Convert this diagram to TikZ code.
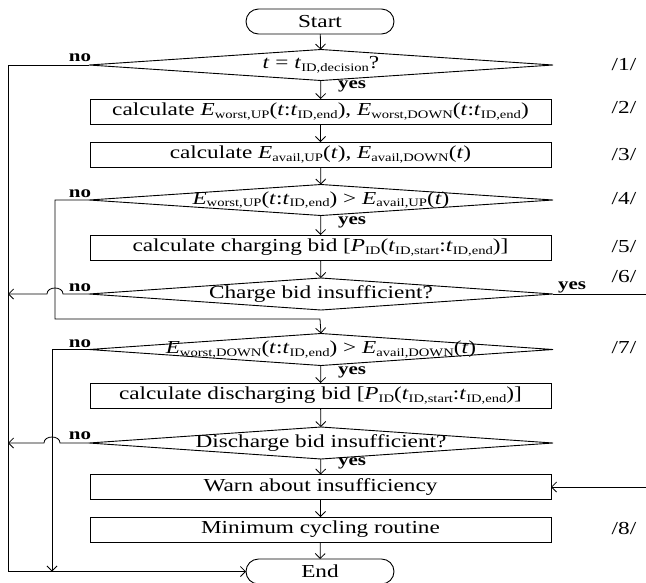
\documentclass[tikz,border=0pt]{standalone}
\usepackage{fontspec}
\setmainfont{Liberation Serif}[FakeStretch=1.27]
\usetikzlibrary{arrows.meta,shapes.geometric,shapes.misc}
\newcommand\Sb[1]{\raisebox{-2.5pt}{\fontsize{11.5}{12}\selectfont #1}}
\newcommand\vE{\textit{E}}
\newcommand\vt{\textit{t}}
\newcommand\vP{\textit{P}}
\begin{document}
\begin{tikzpicture}[x=1pt,y=-1pt,
  every node/.style={font=\fontsize{18.3}{20}\selectfont, inner sep=0pt, outer sep=0pt},
  box/.style={draw, line width=0.9pt, minimum width=461pt, minimum height=25pt},
  term/.style={draw, rounded rectangle, line width=0.9pt, minimum width=148pt, minimum height=25pt},
  dia/.style={draw, diamond, aspect=15, line width=0.9pt, minimum width=464pt, minimum height=31pt},
  yn/.style={font=\bfseries\fontsize{16.5}{17}\selectfont},
  arr/.style={-{Straight Barb[length=5pt,width=10pt]}, line width=0.8pt},
  ln/.style={line width=0.8pt}]
\useasboundingbox (0,0) rectangle (646,582);

% nodes
\node[term] (start) at (320,21.5) {Start};
\node[dia] (d1) at (321,65) {};
\node (d1t) at (d1.center) {\vt{} = \vt\Sb{ID,decision}?};
\node[box] (b2) at (320.5,111.5) {calculate \vE\Sb{worst,UP}(\vt:\vt\Sb{ID,end}), \vE\Sb{worst,DOWN}(\vt:\vt\Sb{ID,end})};
\node[box] (b3) at (320.5,154.5) {calculate \vE\Sb{avail,UP}(\vt), \vE\Sb{avail,DOWN}(\vt)};
\node[dia] (d4) at (321,200) {};
\node (d4t) at (d4.center) {\vE\Sb{worst,UP}(\vt:\vt\Sb{ID,end}) > \vE\Sb{avail,UP}(\vt)};
\node[box] (b5) at (320.5,247.5) {calculate charging bid [\vP\Sb{ID}(\vt\Sb{ID,start}:\vt\Sb{ID,end})]};
\node[dia, minimum height=32pt] (d6) at (321,294) {};
\node (d6t) at (d6.center) {Charge bid insufficient?};
\node[dia, minimum height=32pt] (d7) at (321,349.5) {};
\node (d7t) at (d7.center) {\vE\Sb{worst,DOWN}(\vt:\vt\Sb{ID,end}) > \vE\Sb{avail,DOWN}(\vt)};
\node[box] (b8) at (320.5,395.5) {calculate discharging bid [\vP\Sb{ID}(\vt\Sb{ID,start}:\vt\Sb{ID,end})]};
\node[dia, minimum height=32pt] (d9) at (321,443) {};
\node (d9t) at (d9.center) {Discharge bid insufficient?};
\node[box] (warn) at (320.5,487) {Warn about insufficiency};
\node[box] (mincyc) at (320.5,529.5) {Minimum cycling routine};
\node[term] (endn) at (320,571.5) {End};

% step labels
\node (s1) at (624,65) {/1/};
\node (s2) at (624,108) {/2/};
\node (s3) at (624,155) {/3/};
\node (s4) at (624,199) {/4/};
\node (s5) at (624,247) {/5/};
\node (s6) at (624,277) {/6/};
\node (s7) at (624,348) {/7/};
\node (s8) at (624,528) {/8/};

% yes / no labels
\node[yn] (y1) at (352,86) {yes};
\node[yn] (y4) at (352,222) {yes};
\node[yn] (y6) at (572,287) {yes};
\node[yn] (y7) at (352,372) {yes};
\node[yn] (y9) at (352,463) {yes};
\node[yn] (n1) at (80,58) {no};
\node[yn] (n4) at (80,194) {no};
\node[yn] (n6) at (80,288) {no};
\node[yn] (n7) at (80,344) {no};
\node[yn] (n9) at (80,436) {no};

% helper coordinates
\coordinate (L1) at (8,65);
\coordinate (J4) at (55,200);
\coordinate (J7) at (320,319);
\coordinate (L6) at (8,294);
\coordinate (R6) at (647.5,294);
\coordinate (K7) at (52,349.5);
\coordinate (K7b) at (52,571.5);
\coordinate (L9) at (8,443);

% straight flow
\draw[arr] (start) -- (d1);
\draw[arr] (d1) -- (b2);
\draw[arr] (b2) -- (b3);
\draw[arr] (b3) -- (d4);
\draw[arr] (d4) -- (b5);
\draw[arr] (b5) -- (d6);
\draw[arr] (d7) -- (b8);
\draw[arr] (b8) -- (d9);
\draw[arr] (d9) -- (warn);
\draw[arr] (warn) -- (mincyc);
\draw[arr] (mincyc) -- (endn);

% branches
\draw[arr] (d1.west) -- (L1) |- (endn.west);
\draw[arr] (d4.west) -- (J4) |- (J7) -- (d7.north);
\draw[arr] (d6.west) -- (63,294) .. controls (63,286) and (47,286) .. (47,294) -- (L6);
\draw[arr] (d6.east) -- (R6) |- (warn.east);
\draw[arr] (d7.west) -- (K7) -- (K7b);
\draw[arr] (d9.west) -- (60,443) .. controls (60,435) and (44,435) .. (44,443) -- (L9);
\end{tikzpicture}
\end{document}
